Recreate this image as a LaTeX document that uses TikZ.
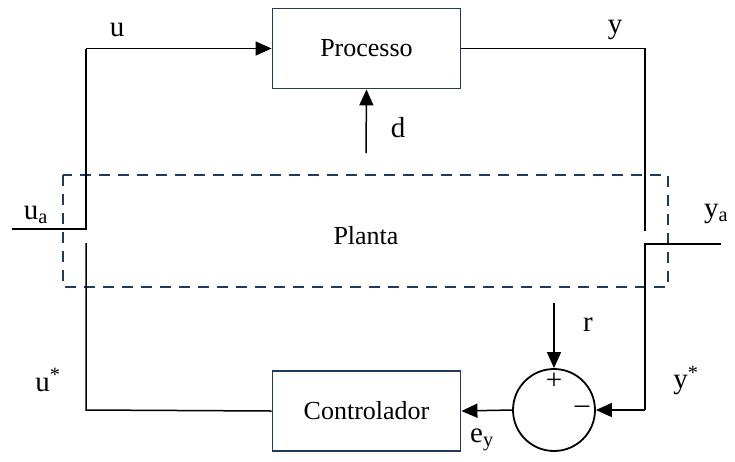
\documentclass[tikz,border=0pt]{standalone}
\usepackage{fontspec}
\setmainfont{Liberation Serif}
\usetikzlibrary{arrows.meta}
\definecolor{navy}{HTML}{1F3A5A}
\begin{document}
\begin{tikzpicture}[x=1pt,y=-1pt,
  blk/.style={draw=navy,line width=1.8pt,minimum width=188pt,minimum height=80pt,inner sep=0pt,font=\fontsize{26}{30}\selectfont},
  wire/.style={line width=1.5pt},
  arr/.style={wire,-{Triangle[length=16pt,width=14pt]}},
  lbl/.style={font=\fontsize{29}{33}\selectfont,inner sep=0pt}]
\useasboundingbox (0,0) rectangle (735,461);
\node[blk] (proc) at (366.5,48.5) {Processo};
\node[blk] (ctrl) at (366.5,411) {Controlador};
\node[draw,circle,line width=1.8pt,minimum size=82pt,inner sep=0pt] (sum) at (554,410) {};
\draw[navy,line width=1.8pt,dash pattern=on 11pt off 8pt] (63,175) rectangle (668,287);
\coordinate (tl) at (86,48.5);
\coordinate (ua) at (86,229);
\coordinate (uae) at (12,229);
\coordinate (l2) at (86,243);
\coordinate (bl) at (86,410);
\coordinate (tr) at (645,48.5);
\coordinate (r1) at (645,231);
\coordinate (ya) at (645,244);
\coordinate (yae) at (721,244);
\coordinate (br) at (645,410);
\coordinate (rs) at (554,303);
\coordinate (ds) at (366,153);
\draw[wire] (uae) -- (ua) -- (tl);
\draw[arr] (tl) -- (proc.west);
\draw[wire] (l2) -- (bl) -- (ctrl.west);
\draw[wire] (proc.east) -- (tr) -- (r1);
\draw[wire] (yae) -- (ya) -- (br);
\draw[arr] (br) -- (sum.east);
\draw[arr] (sum.west) -- (ctrl.east);
\draw[arr] (rs) -- (sum.north);
\draw[arr] (ds) -- (proc.south);
\node[lbl] (pl) at (554,381) {+};
\node[lbl] (mi) at (582,410) {–};
\node[lbl] (lu) at (117,30) {u};
\node[lbl] (ly) at (615,30) {y};
\node[lbl] (ld) at (398,128) {d};
\node[lbl] (lua) at (36,215) {u\textsubscript{a}};
\node[font=\fontsize{26}{30}\selectfont] (lp) at (366,236) {Planta};
\node[lbl] (lya) at (716,214) {y\textsubscript{a}};
\node[lbl] (lr) at (588,325) {r};
\node[lbl] (lus) at (48,380) {u\textsuperscript{*}};
\node[lbl] (lys) at (686,380) {y\textsuperscript{*}};
\node[lbl] (ley) at (482,440) {e\textsubscript{y}};
\end{tikzpicture}
\end{document}
